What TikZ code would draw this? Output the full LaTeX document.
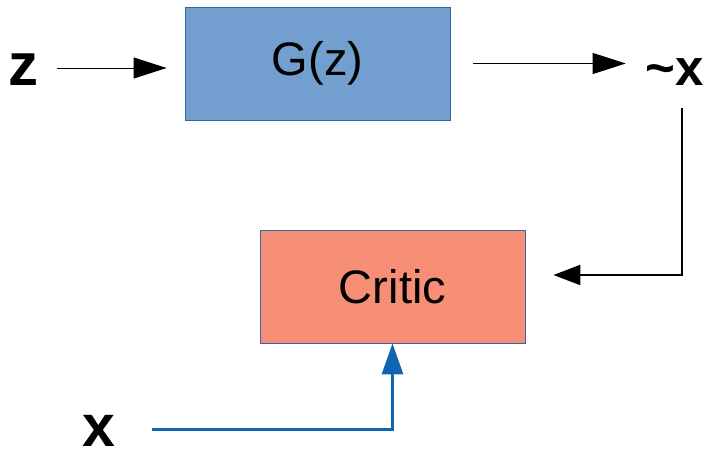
\documentclass[tikz,border=0pt]{standalone}
\usepackage{fontspec}
\setmainfont{Liberation Sans}
\usetikzlibrary{arrows.meta}

\definecolor{genfill}{RGB}{114,159,207}
\definecolor{critfill}{RGB}{247,142,118}
\definecolor{boxline}{RGB}{52,101,164}
\definecolor{realline}{RGB}{16,101,178}

\NewDocumentCommand{\blocktext}{m}{\fontsize{47}{54}\selectfont #1}

\begin{document}
\begin{tikzpicture}[x=1pt, y=-1pt,
    block/.style={draw=boxline, line width=0.8pt, inner sep=0pt,
        minimum width=265pt, minimum height=113pt},
    var/.style={inner sep=0pt, font=\bfseries},
    thin arrow/.style={-{Triangle[length=33pt, width=21pt]}, line width=0.9pt},
    fake arrow/.style={-{Triangle[length=27pt, width=20pt]}, line width=2pt},
    real arrow/.style={-{Triangle[length=31pt, width=21pt]}, line width=3pt, realline}]
        \useasboundingbox (0,0) rectangle (713,452);

        % Blocks.
        \node[block, fill=genfill] (gen) at (317.5,63.5) {\blocktext{G(z)}};
        \node[block, fill=critfill] (critic) at (392.5,286.5) {\blocktext{Critic}};

        % Samples.
        \node[var] (z) at (23.5,69.5) {\fontsize{60}{70}\selectfont z};
        \node[var] (xfake) at (675,72) {\fontsize{51}{60}\selectfont\textasciitilde x};
        \node[var] (xreal) at (99,431) {\fontsize{59}{70}\selectfont x};

        % Flow.
        \draw[thin arrow, shorten >=18pt] ([xshift=18pt, yshift=1.5pt]z.east) -- ([yshift=1.5pt]z.east -| gen.west);
        \draw[thin arrow, shorten >=20pt] ([xshift=23pt]gen.east) -- (gen.east -| xfake.west);
        \draw[fake arrow] ([xshift=7pt, yshift=-22pt]xfake.south) |- ([xshift=28pt, yshift=11.5pt]critic.east);
        \draw[real arrow] ([xshift=36pt, yshift=2pt]xreal.east) -| (critic.south);
    \end{tikzpicture}
\end{document}
